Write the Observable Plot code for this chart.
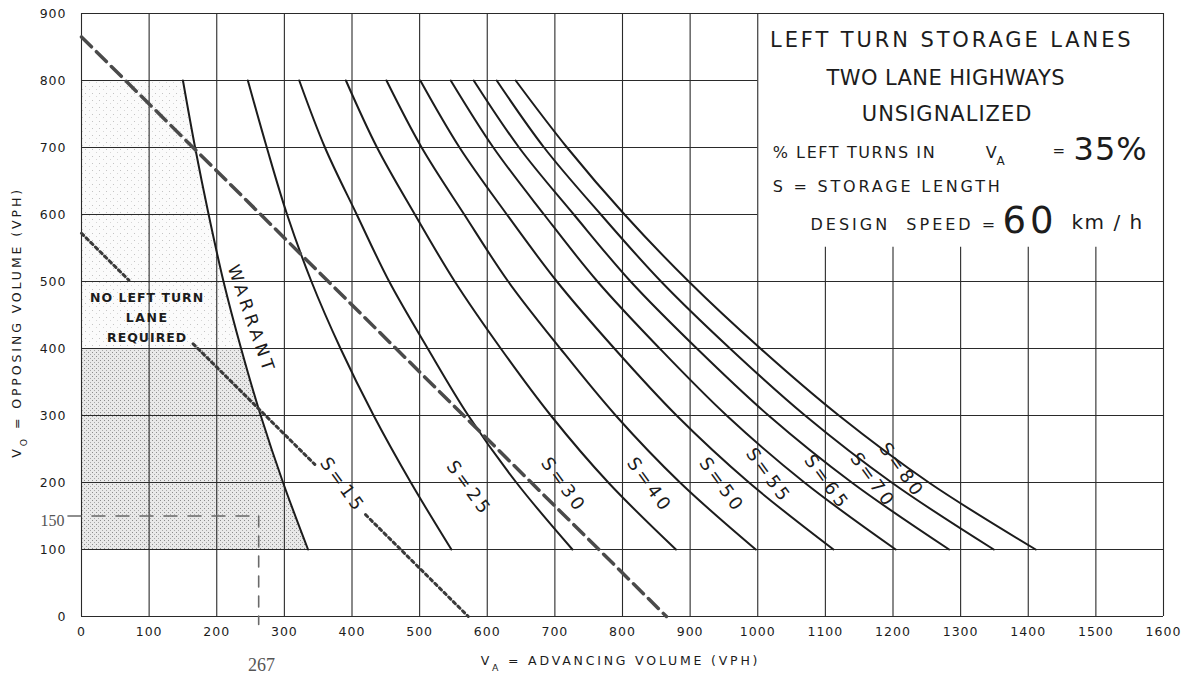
<!DOCTYPE html>
<html><head><meta charset="utf-8">
<script src="https://cdn.jsdelivr.net/npm/d3@7"></script>
<script src="https://cdn.jsdelivr.net/npm/@observablehq/plot@0.6"></script>
<style>
html,body{margin:0;padding:0;background:#fff;}
#chart svg{display:block;}
#chart g[aria-label="x-axis tick label"] text,
#chart g[aria-label="y-axis tick label"] text{letter-spacing:1px;}
</style></head><body><div id="chart"></div>
<script>
// ---------- data ----------
const yLevels  = [800, 700, 600, 500, 400, 300, 200, 100];     // V0 (vph)
const warrantX = [150, 168, 188, 210, 236, 265, 298, 335];
const s15X = [246, 274, 304, 340, 383, 432, 487, 547];
const s25X = [322, 360, 407, 455, 512, 572, 643, 726];
const s30X = [391, 437, 493, 552, 620, 694, 779, 879];
const s40X = [451, 503, 566, 631, 708, 790, 885, 997];
const s50X = [501, 559, 629, 703, 788, 880, 987, 1112];
const s55X = [546, 609, 684, 763, 855, 954, 1069, 1204];
const s65X = [580, 647, 728, 812, 910, 1016, 1139, 1283];
const s70X = [614, 684, 768, 857, 959, 1070, 1198, 1349];
const s80X = [642, 718, 803, 898, 1004, 1120, 1253, 1411];
const storageNames = ["S=15","S=25","S=30","S=40","S=50","S=55","S=65","S=70","S=80"];
const storageSeries = [s15X, s25X, s30X, s40X, s50X, s55X, s65X, s70X, s80X];
const storageLabelX = [386, 573, 713, 840, 947, 1016, 1102, 1170, 1213];
const storageLabelY = [196, 191, 196, 196, 196, 210, 200, 203, 218];

// heavy dashed line and dotted line (with gaps for lettering)
const dashedX = [0, 865];
const dashedY = [865, 0];
const dottedX   = [0, 70, 165, 345, 420, 572];
const dottedY   = [572, 502, 407, 227, 152, 0];
const dottedSeg = [0, 0, 1, 1, 2, 2];

// worked example (hand-drawn)
const exampleV0 = 150;
const exampleVA = 262;
const exampleLabel = "267";

const xTicks = [0,100,200,300,400,500,600,700,800,900,1000,1100,1200,1300,1400,1500,1600];
const yTicks = [0,100,200,300,400,500,600,700,800,900];

const titleLines = ["LEFT TURN STORAGE LANES", "TWO LANE HIGHWAYS", "UNSIGNALIZED"];

// ---------- build tables ----------
const ink = "#1c1c1c";
const curveRows = [];
storageSeries.forEach((xs, i) => xs.forEach((x, j) => curveRows.push({name: storageNames[i], x, y: yLevels[j]})));
warrantX.forEach((x, j) => curveRows.push({name: "WARRANT", x, y: yLevels[j]}));
const warrantRows = warrantX.map((x, j) => ({x, y: yLevels[j]}));
const shadeLower = warrantRows.filter(d => d.y <= 400);
const shadeUpper = warrantRows.filter(d => d.y >= 400);
const dashedRows = dashedX.map((x, i) => ({x, y: dashedY[i]}));
const dottedRows = dottedX.map((x, i) => ({x, y: dottedY[i], seg: dottedSeg[i]}));
const labelRows = storageNames.map((t, i) => ({t, x: storageLabelX[i], y: storageLabelY[i]}));

const boxX = 1000, boxY = 551;   // lettering box (white region, upper right)

// letter spacing per text (px)
const spacing = new Map([
  ["LEFT TURN STORAGE LANES", 2.9], ["TWO LANE HIGHWAYS", 0.4], ["UNSIGNALIZED", 1.0],
  ["% LEFT TURNS IN", 1.6], ["S = STORAGE LENGTH", 2.8], ["DESIGN  SPEED =", 3.0],
  ["60", 4], ["km / h", 1.5], ["35%", 1],
  ["V_A = ADVANCING VOLUME (VPH)", 2.8], ["V_O = OPPOSING VOLUME (VPH)", 2.9],
  ["WARRANT", 4.2], ["NO LEFT TURN", 1], ["LANE", 1.5], ["REQUIRED", 1]
]);
storageNames.forEach(n => spacing.set(n, 3.5));

const chart = Plot.plot({
  width: 1198, height: 675,
  marginLeft: 81, marginRight: 35, marginTop: 13, marginBottom: 59,
  x: {domain: [0, 1600]},
  y: {domain: [0, 900]},
  style: {fontFamily: "'DejaVu Sans', sans-serif", fontSize: "13px", background: "#fff", color: ink},
  marks: [
    // stippled "no left turn lane required" region
    Plot.areaX(shadeUpper, {x1: 0, x2: "x", y: "y", fill: "url(#stipLight)", curve: "catmull-rom"}),
    Plot.areaX(shadeLower, {x1: 0, x2: "x", y: "y", fill: "url(#stipDark)", curve: "catmull-rom"}),
    // grid
    Plot.ruleX(xTicks, {x: d => d, y1: 0, y2: d => (d > boxX && d < 1600) ? boxY : 900, stroke: "#2a2a2a", strokeWidth: 1.1}),
    Plot.ruleY(yTicks, {y: d => d, x1: 0, x2: d => (d > boxY && d < 900) ? boxX : 1600, stroke: "#2a2a2a", strokeWidth: 1.1}),
    // axes
    Plot.axisX(xTicks, {tickSize: 0, tickPadding: 11, fontSize: 12.5, label: null, tickFormat: d => String(d)}),
    Plot.axisY(yTicks, {tickSize: 0, tickPadding: 15, fontSize: 12.5, label: null, tickFormat: d => String(d)}),
    // storage curves and warrant
    Plot.line(curveRows, {x: "x", y: "y", z: "name", curve: "catmull-rom", stroke: ink, strokeWidth: 2}),
    // dashed and dotted lines
    Plot.line(dashedRows, {x: "x", y: "y", stroke: "#4a4a4a", strokeWidth: 3.5, strokeDasharray: "14,7"}),
    Plot.line(dottedRows, {x: "x", y: "y", z: "seg", stroke: "#3a3a3a", strokeWidth: 3, strokeDasharray: "3,3.5"}),
    // curve labels
    Plot.text(labelRows, {x: "x", y: "y", text: "t", rotate: 54, fontSize: 18, fill: ink}),
    Plot.text(["WARRANT"], {x: 251, y: 443, text: d => d, rotate: 71, fontSize: 17, fill: ink}),
    Plot.text(["NO LEFT TURN", "LANE", "REQUIRED"], {x: 97, y: (d, i) => [476, 446, 416][i], text: d => d, fontSize: 12.5, fontWeight: "bold", fill: ink}),
    // lettering box
    Plot.text(titleLines, {x: (d, i) => [1287, 1278, 1280][i], y: (d, i) => [860, 804, 749][i], text: d => d, fontSize: 21, fill: ink}),
    Plot.text(["% LEFT TURNS IN"], {x: 1022, y: 692, text: d => d, textAnchor: "start", fontSize: 16, fill: ink}),
    Plot.text(["V_A"], {x: 1337, y: 692, text: d => d, textAnchor: "start", fontSize: 16, fill: ink}),
    Plot.text(["="], {x: 1436, y: 694, text: d => d, textAnchor: "start", fontSize: 15, fill: ink}),
    Plot.text(["35%"], {x: 1467, y: 697, text: d => d, textAnchor: "start", fontSize: 32, fill: ink}),
    Plot.text(["S = STORAGE LENGTH"], {x: 1022, y: 641, text: d => d, textAnchor: "start", fontSize: 16, fill: ink}),
    Plot.text(["DESIGN  SPEED ="], {x: 1078, y: 585, text: d => d, textAnchor: "start", fontSize: 16, fill: ink}),
    Plot.text(["60"], {x: 1362, y: 590, text: d => d, textAnchor: "start", fontSize: 37, fill: ink}),
    Plot.text(["km / h"], {x: 1464, y: 588, text: d => d, textAnchor: "start", fontSize: 20, fill: ink}),
    // axis titles
    Plot.text(["V_A = ADVANCING VOLUME (VPH)"], {x: 797, y: -66, text: d => d, fontSize: 12.5, fill: ink}),
    Plot.text(["V_O = OPPOSING VOLUME (VPH)"], {x: -95, y: 439, text: d => d, rotate: -90, fontSize: 12.5, fill: ink}),
    // hand-drawn worked example
    Plot.line([{x: -20, y: exampleV0}, {x: exampleVA, y: exampleV0}], {x: "x", y: "y", stroke: "#6a6a6a", strokeWidth: 1.6, strokeDasharray: "13,11"}),
    Plot.line([{x: exampleVA, y: exampleV0}, {x: exampleVA, y: -12}], {x: "x", y: "y", stroke: "#6a6a6a", strokeWidth: 1.6, strokeDasharray: "11,9"}),
    Plot.text([String(exampleV0)], {x: -43, y: 143, text: d => d, fontSize: 16, fill: "#555", fontFamily: "'Liberation Serif', serif"}),
    Plot.text([exampleLabel], {x: 266, y: -72, text: d => d, fontSize: 18, fill: "#555", fontFamily: "'Liberation Serif', serif"})
  ]
});

// stipple patterns
const ns = "http://www.w3.org/2000/svg";
const defs = document.createElementNS(ns, "defs");
defs.innerHTML = `
<pattern id="stipDark" width="4" height="4" patternUnits="userSpaceOnUse">
  <rect width="4" height="4" fill="#e9e9e9"/>
  <rect x="0" y="0" width="1" height="1" fill="#8c8c8c"/>
  <rect x="2" y="2" width="1" height="1" fill="#a8a8a8"/>
</pattern>
<pattern id="stipLight" width="7" height="7" patternUnits="userSpaceOnUse">
  <rect width="7" height="7" fill="#fbfbfb"/>
  <rect x="1" y="2" width="1" height="1" fill="#c4c4c4"/>
  <rect x="5" y="5" width="1" height="1" fill="#d6d6d6"/>
</pattern>`;
chart.insertBefore(defs, chart.firstChild);

// letter spacing and subscripts (V_A, V_O)
chart.querySelectorAll("text").forEach(t => {
  const s = t.textContent;
  if (spacing.has(s)) t.style.letterSpacing = spacing.get(s) + "px";
  if (!/V_[AO]/.test(s) || t.children.length) return;
  const parts = s.split(/V_([AO])/);
  t.textContent = "";
  parts.forEach((p, i) => {
    const sp = document.createElementNS(ns, "tspan");
    if (i % 2 === 1) {
      sp.setAttribute("baseline-shift", "sub");
      sp.setAttribute("font-size", "75%");
      sp.textContent = p;
    } else {
      sp.textContent = p + (i < parts.length - 1 ? "V" : "");
    }
    t.appendChild(sp);
  });
});

document.getElementById("chart").appendChild(chart);
</script>
</body></html>
